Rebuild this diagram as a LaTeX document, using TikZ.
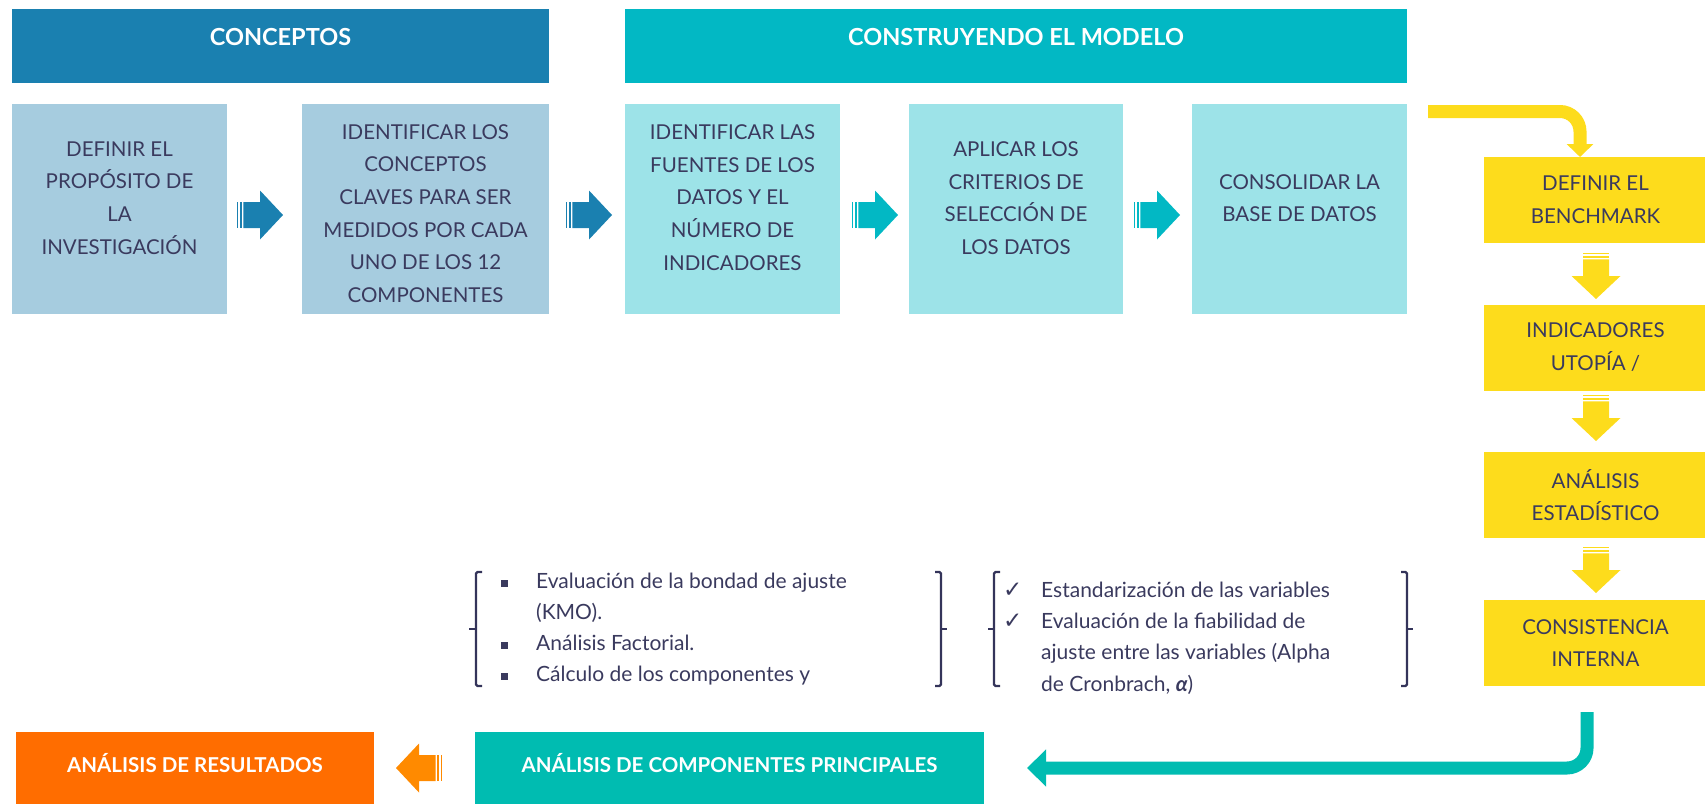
\documentclass[tikz,border=0pt]{standalone}
\usepackage{fontspec}
\setmainfont{Lato}
\newfontfamily\symfont{DejaVu Sans}
\usetikzlibrary{arrows.meta,calc}
\definecolor{hblue}{HTML}{1A80B0}
\definecolor{hteal}{HTML}{02B8C4}
\definecolor{lblue}{HTML}{A6CCDF}
\definecolor{lteal}{HTML}{9DE3E8}
\definecolor{yel}{HTML}{FDDC1C}
\definecolor{bteal}{HTML}{00BCB1}
\definecolor{orbox}{HTML}{FF6D00}
\definecolor{orarr}{HTML}{FF8A00}
\definecolor{txt}{HTML}{3A3A5E}
\definecolor{brk}{HTML}{34345A}
\tikzset{
 pics/barrow/.style={code={
  \fill[#1] (-23,-13) rectangle (-21.6,13);
  \fill[#1] (-20.4,-13) rectangle (-17.6,13);
  \fill[#1] (-16.6,-13) -- (0,-13) -- (0,-24.5) -- (23,0) -- (0,24.5) -- (0,13) -- (-16.6,13) -- cycle;
 }},
 fbox/.style={rectangle, inner sep=0pt, outer sep=0pt, anchor=north west, fill=#1},
 btext/.style={align=center, text=txt, inner sep=0pt, font=\fontsize{20.5}{32.6}\selectfont},
 htext/.style={text=white, inner sep=0pt, font=\bfseries\fontsize{23.5}{26}\selectfont},
 wtext/.style={text=white, inner sep=0pt, font=\bfseries\fontsize{20.5}{24}\selectfont},
 gtext/.style={text=txt, inner sep=0pt, anchor=base west, font=\fontsize{21}{24}\selectfont},
 brace/.style={draw=brk, line width=2.2pt, rounded corners=1.5pt},
 flow/.style={line width=13pt, rounded corners=20pt},
}
\begin{document}
\begin{tikzpicture}[x=1pt,y=-1pt]
\useasboundingbox (0,0) rectangle (1705,804);
% headers
\node[fbox=hblue, minimum width=537pt, minimum height=74pt] (h1) at (12,9) {};
\node[htext] (h1t) at (280.5,37) {CONCEPTOS};
\node[fbox=hteal, minimum width=782pt, minimum height=74pt] (h2) at (625,9) {};
\node[htext] (h2t) at (1016,37) {CONSTRUYENDO EL MODELO};
% top boxes
\node[fbox=lblue, minimum width=215pt, minimum height=210pt] (b1) at (12,104) {};
\node[fbox=lblue, minimum width=247pt, minimum height=210pt] (b2) at (302,104) {};
\node[fbox=lteal, minimum width=215pt, minimum height=210pt] (b3) at (625,104) {};
\node[fbox=lteal, minimum width=214pt, minimum height=210pt] (b4) at (909,104) {};
\node[fbox=lteal, minimum width=215pt, minimum height=210pt] (b5) at (1192,104) {};
\node[btext] (t1) at (119.5,198) {DEFINIR EL\\PROPÓSITO DE\\LA\\INVESTIGACIÓN};
\node[btext] (t2) at (425.5,213.5) {IDENTIFICAR LOS\\CONCEPTOS\\CLAVES PARA SER\\MEDIDOS POR CADA\\UNO DE LOS 12\\COMPONENTES};
\node[btext] (t3) at (732.5,197.5) {IDENTIFICAR LAS\\FUENTES DE LOS\\DATOS Y EL\\NÚMERO DE\\INDICADORES};
\node[btext] (t4) at (1016,198) {APLICAR LOS\\CRITERIOS DE\\SELECCIÓN DE\\LOS DATOS};
\node[btext] (t5) at (1299.5,198) {CONSOLIDAR LA\\BASE DE DATOS};
% top block arrows
\pic at (260,215) {barrow=hblue};
\pic at (589,215) {barrow=hblue};
\pic at (875,215) {barrow=hteal};
\pic at (1157,215) {barrow=hteal};
% yellow column
\node[fbox=yel, minimum width=221pt, minimum height=86pt] (y1) at (1484,157) {};
\node[fbox=yel, minimum width=221pt, minimum height=86pt] (y2) at (1484,305) {};
\node[fbox=yel, minimum width=221pt, minimum height=86pt] (y3) at (1484,452) {};
\node[fbox=yel, minimum width=221pt, minimum height=86pt] (y4) at (1484,600) {};
\node[btext] (yt1) at (1595.5,200) {DEFINIR EL\\BENCHMARK};
\node[btext] (yt2) at (1595.5,347) {INDICADORES\\UTOPÍA /};
\node[btext] (yt3) at (1595.5,495) {ANÁLISIS\\ESTADÍSTICO};
\node[btext] (yt4) at (1595.5,643) {CONSISTENCIA\\INTERNA};
\pic[rotate=-90] at (1596,276) {barrow=yel};
\pic[rotate=-90] at (1596,418) {barrow=yel};
\pic[rotate=-90] at (1596,570) {barrow=yel};
% yellow curved connector
\coordinate (ys) at (1428,111.5);
\coordinate (yend) at ($(y1.north west)+(96,0)$);
\draw[flow, draw=yel, -{Triangle[length=13pt,width=26pt]}] (ys) -- (ys -| yend) -- (yend);
% bottom boxes
\node[fbox=orbox, minimum width=358pt, minimum height=72pt] (ob) at (16,732) {};
\node[fbox=bteal, minimum width=509pt, minimum height=72pt] (acp) at (475,732) {};
\node[wtext] (obt) at (195,763) {ANÁLISIS DE RESULTADOS};
\node[wtext] (acpt) at (729.5,763) {ANÁLISIS DE COMPONENTES PRINCIPALES};
\pic[rotate=180] at (419,768) {barrow=orarr};
% teal curved connector
\coordinate (ts) at ($(y4.south)+(-7.5,26)$);
\coordinate (tend) at ($(acp.east)+(43,0)$);
\draw[flow, draw=bteal, -{Triangle[length=19pt,width=36pt]}] (ts) -- (ts |- tend) -- (tend);
% brackets group 1
\draw[brace] (482,572) -- (476,572) -- (476,686) -- (482,686);
\draw[brace] (476,629) -- (469,629);
\draw[brace] (935,572) -- (941,572) -- (941,686) -- (935,686);
\draw[brace] (941,629) -- (947,629);
% brackets group 2
\draw[brace] (1000,572) -- (994,572) -- (994,686) -- (1000,686);
\draw[brace] (994,629) -- (988,629);
\draw[brace] (1401,572) -- (1407,572) -- (1407,686) -- (1401,686);
\draw[brace] (1407,629) -- (1413,629);
% group 1 text
\node[gtext] (g1a) at (501,588) {\makebox[35pt][l]{\raisebox{1.5pt}{\rule{6.5pt}{6.5pt}}}Evaluación de la bondad de ajuste};
\node[gtext] (g1b) at (536,619) {(KMO).};
\node[gtext] (g1c) at (501,650) {\makebox[35pt][l]{\raisebox{1.5pt}{\rule{6.5pt}{6.5pt}}}Análisis Factorial.};
\node[gtext] (g1d) at (501,681) {\makebox[35pt][l]{\raisebox{1.5pt}{\rule{6.5pt}{6.5pt}}}Cálculo de los componentes y};
% group 2 text
\node[gtext] (g2a) at (1003,597) {\makebox[38pt][l]{\symfont\fontsize{23}{24}\selectfont ✓}Estandarización de las variables};
\node[gtext] (g2b) at (1003,628) {\makebox[38pt][l]{\symfont\fontsize{23}{24}\selectfont ✓}Evaluación de la fiabilidad de};
\node[gtext] (g2c) at (1041,659) {ajuste entre las variables (Alpha};
\node[gtext] (g2d) at (1041,691) {de Cronbrach, \textbf{\textit{α}})};
\end{tikzpicture}
\end{document}
